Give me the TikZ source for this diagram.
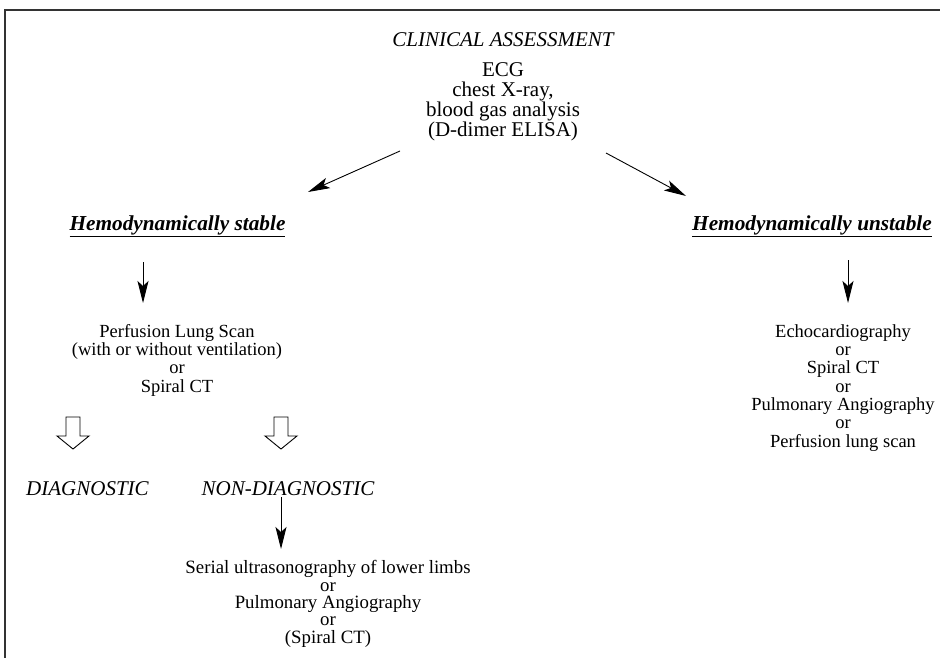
\documentclass[tikz,border=0pt]{standalone}
\usepackage{fontspec}
\setmainfont{Liberation Serif}
\usetikzlibrary{arrows.meta}
\begin{document}
\begin{tikzpicture}[x=1pt,y=-1pt,
  big/.style={font=\fontsize{21}{20}\selectfont, align=center, inner sep=0pt, anchor=base},
  small/.style={font=\fontsize{18.5}{18.3}\selectfont, align=center, inner sep=0pt, anchor=base},
  ital/.style={font=\fontsize{21}{20}\selectfont\itshape, inner sep=0pt, anchor=base},
  head/.style={font=\fontsize{21.3}{20}\selectfont\bfseries\itshape, inner sep=0pt, anchor=base},
  arr/.style={line width=0.9pt, -{Stealth[length=22pt, width=11pt, inset=5pt]}},
  hollow/.style={line width=0.9pt, draw=black, fill=white}
]
\useasboundingbox (0,0) rectangle (940,658);
% frame
\draw[line width=1.5pt, black!80] (5,658) -- (5,10) -- (940,10);

% texts (multi-line nodes are placed by the baseline of their last line)
\node[ital] (ca) at (503,47) {CLINICAL ASSESSMENT};
\node[big] (top) at (503,137) {ECG\\chest X-ray,\\blood gas analysis\\(D-dimer ELISA)};
\node[head] (stable) at (177.5,230) {\underline{Hemodynamically stable}};
\node[head] (unstable) at (812,230) {\underline{Hemodynamically unstable}};
\node[small] (perf) at (177,392) {Perfusion Lung Scan\\(with or without ventilation)\\or\\Spiral CT};
\node[small] (right) at (843,447) {Echocardiography\\or\\Spiral CT\\or\\Pulmonary Angiography\\or\\Perfusion lung scan};
\node[ital] (diag) at (87.5,495) {DIAGNOSTIC};
\node[ital] (nondiag) at (288,495) {NON-DIAGNOSTIC};
\node[small, font=\fontsize{18.8}{17.3}\selectfont] (bottom) at (328,643) {Serial ultrasonography of lower limbs\\or\\Pulmonary Angiography\\or\\(Spiral CT)};

% connector end points
\coordinate (a1s) at (400,151);
\coordinate (a1e) at (308,192);
\coordinate (a2s) at (606,153);
\coordinate (a2e) at (686,196);
\coordinate (a3s) at (143,262);
\coordinate (a3e) at (143,303);
\coordinate (a4s) at (848,260);
\coordinate (a4e) at (848,303);
\coordinate (a5s) at (281,497);
\coordinate (a5e) at (281,549);

\draw[arr] (a1s) -- (a1e);
\draw[arr] (a2s) -- (a2e);
\draw[arr] (a3s) -- (a3e);
\draw[arr] (a4s) -- (a4e);
\draw[arr] (a5s) -- (a5e);

% hollow arrows
\foreach \cx/\nm in {73/h1, 281/h2}{
  \draw[hollow] (\cx-7,417) -- (\cx+7,417) -- (\cx+7,436) -- (\cx+16,436)
     -- (\cx,449) -- (\cx-16,436) -- (\cx-7,436) -- cycle;
}
\end{tikzpicture}
\end{document}
